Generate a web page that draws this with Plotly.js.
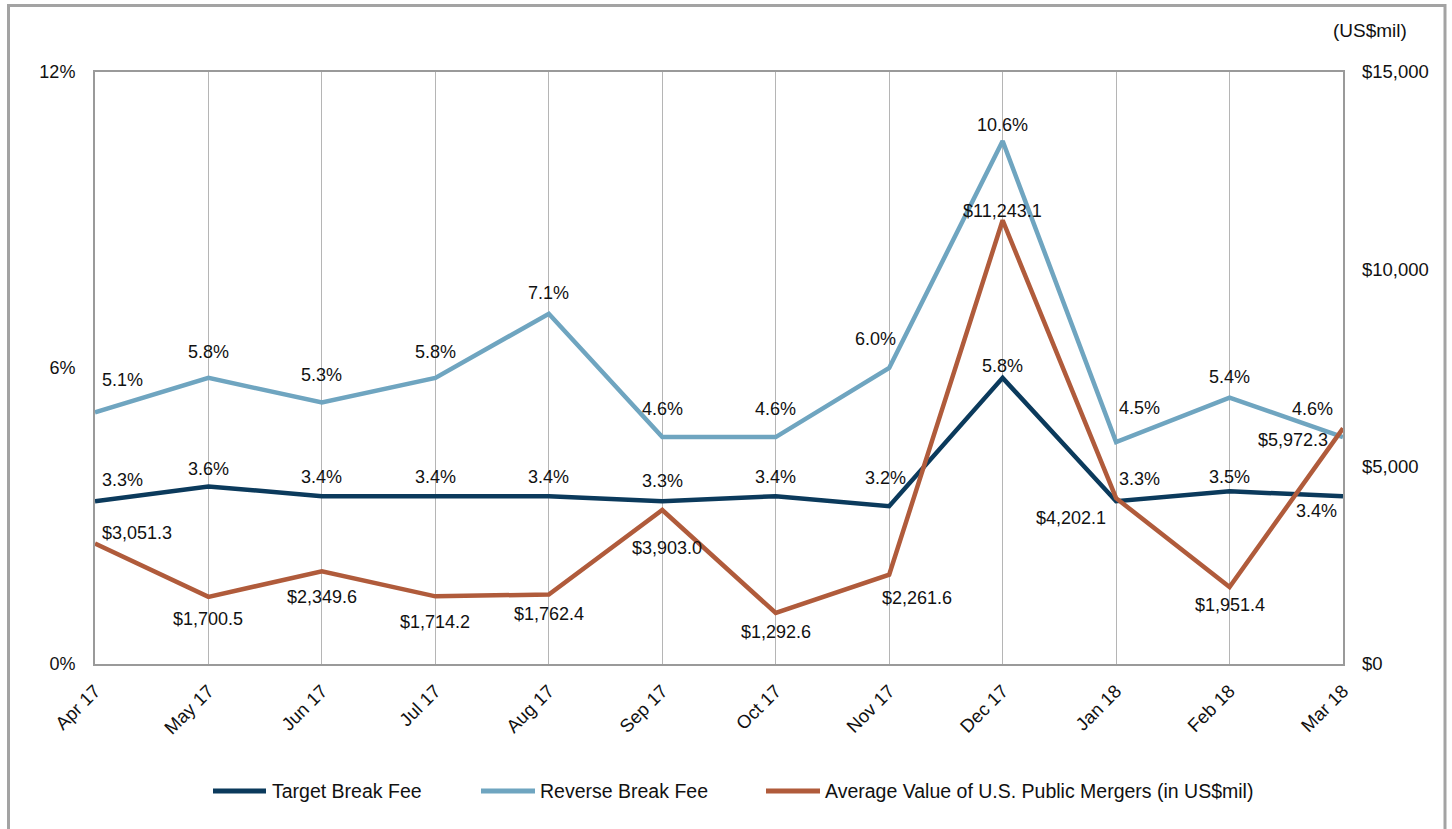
<!DOCTYPE html>
<html>
<head>
<meta charset="utf-8">
<script src="https://cdn.plot.ly/plotly-3.0.1.min.js"></script>
<style>
  html, body { margin: 0; padding: 0; background: #ffffff; }
  #chart { width: 1452px; height: 829px; }
</style>
</head>
<body>
<div id="chart"></div>
<script>
// Monthly break fees (% of deal value) and average merger size (US$mil)
const months = ['Apr 17', 'May 17', 'Jun 17', 'Jul 17', 'Aug 17', 'Sep 17',
                'Oct 17', 'Nov 17', 'Dec 17', 'Jan 18', 'Feb 18', 'Mar 18'];
const targetBreakFee  = [3.3, 3.6, 3.4, 3.4, 3.4, 3.3, 3.4, 3.2, 5.8, 3.3, 3.5, 3.4];
const reverseBreakFee = [5.1, 5.8, 5.3, 5.8, 7.1, 4.6, 4.6, 6.0, 10.6, 4.5, 5.4, 4.6];
const avgMergerValue  = [3051.3, 1700.5, 2349.6, 1714.2, 1762.4, 3903.0,
                         1292.6, 2261.6, 11243.1, 4202.1, 1951.4, 5972.3];

const pctTickVals = [0, 6, 12];
const pctTickText = ['0%', '6%', '12%'];
const usdTickVals = [0, 5000, 10000, 15000];
const usdTickText = ['$0', '$5,000', '$10,000', '$15,000'];

const seriesNames = ['Target Break Fee', 'Reverse Break Fee',
                     'Average Value of U.S. Public Mergers (in US$mil)'];

// Styling
const FONT = 'Liberation Sans, Arial, sans-serif';
const COLORS = ['#0b3a5c', '#6fa5c0', '#b05b3b'];
const LINE_W = 4.5;

// Pixel offsets [dx, dy] (screen px, down positive) of each data label from its point
const labelOffsets = {
  target:  [[27,-21],[0,-17],[0,-19],[0,-19],[0,-19],[0,-20],[0,-19],[-4,-28],[0,-12],[23,-22],[0,-14],[-27,15]],
  reverse: [[27,-32],[0,-26],[0,-28],[0,-26],[0,-21],[0,-28],[0,-28],[-14,-29],[0,-16],[23,-34],[0,-21],[-31,-28]],
  avg:     [[42,-11],[0,22],[0,26],[0,26],[0,20],[5,38],[0,19],[28,23],[0,-9],[-45,20],[0,18],[-50,12]]
};

const fmtPct = v => v.toFixed(1) + '%';
const fmtUsd = v => '$' + v.toLocaleString('en-US', {minimumFractionDigits: 1, maximumFractionDigits: 1});

const traces = [
  { x: months, y: targetBreakFee, name: seriesNames[0], type: 'scatter', mode: 'lines',
    line: {color: COLORS[0], width: LINE_W}, yaxis: 'y', cliponaxis: false },
  { x: months, y: reverseBreakFee, name: seriesNames[1], type: 'scatter', mode: 'lines',
    line: {color: COLORS[1], width: LINE_W}, yaxis: 'y', cliponaxis: false },
  { x: months, y: avgMergerValue, name: seriesNames[2], type: 'scatter', mode: 'lines',
    line: {color: COLORS[2], width: LINE_W}, yaxis: 'y2', cliponaxis: false }
];

const annotations = [];
function addLabels(values, fmt, yref, offs) {
  values.forEach((v, i) => {
    annotations.push({
      x: months[i], y: v, xref: 'x', yref: yref, text: fmt(v), showarrow: false,
      xanchor: 'center', yanchor: 'middle',
      xshift: offs[i][0], yshift: -offs[i][1],
      font: {family: FONT, size: 18, color: '#111111'}
    });
  });
}
addLabels(targetBreakFee, fmtPct, 'y', labelOffsets.target);
addLabels(reverseBreakFee, fmtPct, 'y', labelOffsets.reverse);
addLabels(avgMergerValue, fmtUsd, 'y2', labelOffsets.avg);

// Plot area geometry (px) used to place items outside it in paper units
const PL = 95, PR = 1343, PT = 72, PB = 664;
const px = x => (x - PL) / (PR - PL);
const py = y => (PB - y) / (PB - PT);

// Units note above the right axis
annotations.push({
  xref: 'paper', yref: 'paper', x: px(1409), y: py(31), xanchor: 'right', yanchor: 'middle',
  text: '(US$mil)', showarrow: false, font: {family: FONT, size: 19, color: '#111111'}
});

// Legend drawn below the axis
const shapes = [];
const legendItems = [[213, 266, 270], [481, 535, 538], [766, 820, 823]];
const LEG_Y = 791;
legendItems.forEach((it, k) => {
  shapes.push({
    type: 'line', xref: 'paper', yref: 'paper',
    x0: px(it[0]), x1: px(it[1]), y0: py(LEG_Y), y1: py(LEG_Y),
    line: {color: COLORS[k], width: 5}
  });
  annotations.push({
    xref: 'paper', yref: 'paper', x: px(it[2]), y: py(LEG_Y), xanchor: 'left', yanchor: 'middle',
    text: seriesNames[k], showarrow: false, font: {family: FONT, size: 19.5, color: '#111111'}
  });
});

// Outer frame
shapes.push({
  type: 'rect', xref: 'paper', yref: 'paper', layer: 'above',
  x0: px(8.5), x1: px(1445), y0: py(5.5), y1: py(860),
  line: {color: '#a3a3a3', width: 3}, fillcolor: 'rgba(0,0,0,0)'
});

const layout = {
  width: 1452, height: 829,
  margin: {l: PL, r: 1452 - PR, t: PT, b: 829 - PB, pad: 0},
  paper_bgcolor: '#ffffff', plot_bgcolor: '#ffffff',
  showlegend: false,
  font: {family: FONT, size: 18, color: '#111111'},
  xaxis: {
    type: 'category', range: [0, months.length - 1],
    showgrid: true, gridcolor: '#b5b5b5', gridwidth: 1,
    showline: true, linecolor: '#9a9a9a', linewidth: 2, mirror: true,
    ticks: '', tickangle: -45, ticklabelstandoff: 7,
    tickfont: {family: FONT, size: 18.5, color: '#111111'},
    zeroline: false, fixedrange: true
  },
  yaxis: {
    range: [0, 12], tickvals: pctTickVals, ticktext: pctTickText,
    showgrid: false, zeroline: false,
    showline: true, linecolor: '#9a9a9a', linewidth: 2, mirror: true,
    ticks: '', ticklabelstandoff: 14,
    tickfont: {family: FONT, size: 18, color: '#111111'}
  },
  yaxis2: {
    range: [0, 15000], tickvals: usdTickVals, ticktext: usdTickText,
    overlaying: 'y', side: 'right',
    showgrid: false, zeroline: false, showline: false,
    ticks: '', ticklabelstandoff: 18,
    tickfont: {family: FONT, size: 18.5, color: '#111111'}
  },
  annotations: annotations,
  shapes: shapes
};

Plotly.newPlot('chart', traces, layout, {displayModeBar: false, staticPlot: true});
</script>
</body>
</html>
